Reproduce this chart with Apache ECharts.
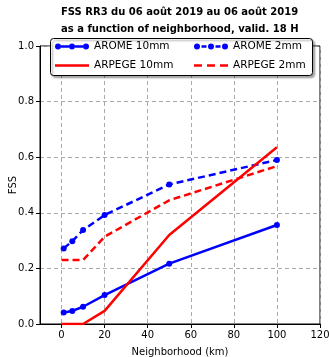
<!DOCTYPE html>
<html><head><meta charset="utf-8">
<script src="https://cdn.jsdelivr.net/npm/echarts@6/dist/echarts.min.js"></script>
<style>html,body{margin:0;padding:0;background:#fff}#c{width:329px;height:357px}</style>
</head><body><div id="c"></div>
<script>
const titleLines = ["FSS RR3 du 06 août 2019 au 06 août 2019", "as a function of neighborhood, valid. 18 H"];
const xArome = [1, 5, 10, 20, 50, 100];
const xArpege = [0, 10, 20, 50, 100];
const arome10 = [0.041, 0.047, 0.062, 0.104, 0.217, 0.356];
const arome2 = [0.272, 0.298, 0.338, 0.392, 0.502, 0.590];
const arpege10 = [0.0, 0.0, 0.047, 0.320, 0.636];
const arpege2 = [0.230, 0.230, 0.314, 0.445, 0.568];
const xTicks = [0, 20, 40, 60, 80, 100, 120];
const seriesNames = ["AROME 10mm", "AROME 2mm", "ARPEGE 10mm", "ARPEGE 2mm"];

const font = "DejaVu Sans";
const zip = (xs, ys) => xs.map((x, i) => [x, ys[i]]);

// legend icon shapes (34 x 10 box; tiny bounding marks fix the extent)
const bbox = 'M0,0 L0.01,0 L0,0.01 Z M34,10 L33.99,10 L34,9.99 Z ';
const circ = cx => `M${cx-3},5 A3,3 0 1,0 ${cx+3},5 A3,3 0 1,0 ${cx-3},5 Z `;
const bar = (a, b) => `M${a},3.8 L${b},3.8 L${b},6.2 L${a},6.2 Z `;
const icons = {
  blueSolid: 'path://' + bbox + bar(6, 14) + bar(20, 28) + circ(3) + circ(17) + circ(31),
  blueDash: 'path://' + bbox + bar(7.5, 12.5) + bar(21.5, 26.5) + circ(3) + circ(17) + circ(31),
  redSolid: 'path://' + bbox + bar(0, 34),
  redDash: 'path://' + bbox + bar(0, 8) + bar(13, 21) + bar(26, 34)
};

const chart = echarts.init(document.getElementById('c'), null, {renderer: 'canvas'});
const legendBase = {
  orient: 'vertical', top: 41,
  itemWidth: 34, itemHeight: 10, itemGap: 8,
  padding: 0,
  textStyle: {fontFamily: font, fontSize: 10.5, color: '#000'}
};
chart.setOption({
  animation: false,
  textStyle: {fontFamily: font},
  title: [
    {text: titleLines[0], left: 56, top: 2, textStyle: {fontFamily: font, fontSize: 10, fontWeight: 'bold', color: '#000'}},
    {text: titleLines[1], left: 56, top: 19, textStyle: {fontFamily: font, fontSize: 10, fontWeight: 'bold', color: '#000'}}
  ],
  graphic: [{
    type: 'rect', left: 50, top: 38, z: 3,
    shape: {width: 262, height: 37, r: 3},
    style: {fill: '#fff', stroke: '#000', lineWidth: 1,
      shadowColor: 'rgba(0,0,0,0.35)', shadowBlur: 2, shadowOffsetX: 2, shadowOffsetY: 2}
  }],
  legend: [
    Object.assign({}, legendBase, {left: 55, data: [
      {name: seriesNames[0], icon: icons.blueSolid},
      {name: seriesNames[2], icon: icons.redSolid}]}),
    Object.assign({}, legendBase, {left: 194, data: [
      {name: seriesNames[1], icon: icons.blueDash},
      {name: seriesNames[3], icon: icons.redDash}]})
  ],
  grid: {left: 40, right: 9, top: 46, bottom: 33, show: true, borderColor: '#000', borderWidth: 1,
    containLabel: false, outerBoundsMode: 'none'},
  xAxis: {
    type: 'value', min: -10, max: 120,
    name: 'Neighborhood (km)', nameLocation: 'middle', nameGap: 23, nameMoveOverlap: false,
    nameTextStyle: {fontFamily: font, fontSize: 10, color: '#000'},
    axisLine: {show: true, onZero: false, lineStyle: {color: '#000'}},
    axisTick: {show: true, customValues: xTicks, length: 4, lineStyle: {color: '#000'}},
    axisLabel: {customValues: xTicks, fontFamily: font, fontSize: 10, color: '#000', margin: 6},
    splitLine: {show: true, lineStyle: {color: '#aaa', type: [4, 3]}}
  },
  yAxis: {
    type: 'value', min: 0, max: 1, interval: 0.2,
    name: 'FSS', nameLocation: 'middle', nameGap: 22, nameMoveOverlap: false,
    nameTextStyle: {fontFamily: font, fontSize: 10, color: '#000'},
    axisLine: {show: true, onZero: false, lineStyle: {color: '#000'}},
    axisTick: {show: true, length: 4, lineStyle: {color: '#000'}},
    axisLabel: {fontFamily: font, fontSize: 10, color: '#000', margin: 6, formatter: v => v.toFixed(1)},
    splitLine: {show: true, lineStyle: {color: '#aaa', type: [4, 3]}}
  },
  series: [
    {name: seriesNames[0], type: 'line', data: zip(xArome, arome10), color: '#0000ff',
     lineStyle: {width: 2.5, type: 'solid'}, symbol: 'circle', symbolSize: 6, itemStyle: {color: '#0000ff'}},
    {name: seriesNames[1], type: 'line', data: zip(xArome, arome2), color: '#0000ff',
     lineStyle: {width: 2.5, type: [7, 4]}, symbol: 'circle', symbolSize: 6, itemStyle: {color: '#0000ff'}},
    {name: seriesNames[2], type: 'line', data: zip(xArpege, arpege10), color: '#ff0000',
     lineStyle: {width: 2.5, type: 'solid'}, symbol: 'none', itemStyle: {color: '#ff0000'}},
    {name: seriesNames[3], type: 'line', data: zip(xArpege, arpege2), color: '#ff0000',
     lineStyle: {width: 2.5, type: [7, 4]}, symbol: 'none', itemStyle: {color: '#ff0000'}}
  ]
});
</script></body></html>
